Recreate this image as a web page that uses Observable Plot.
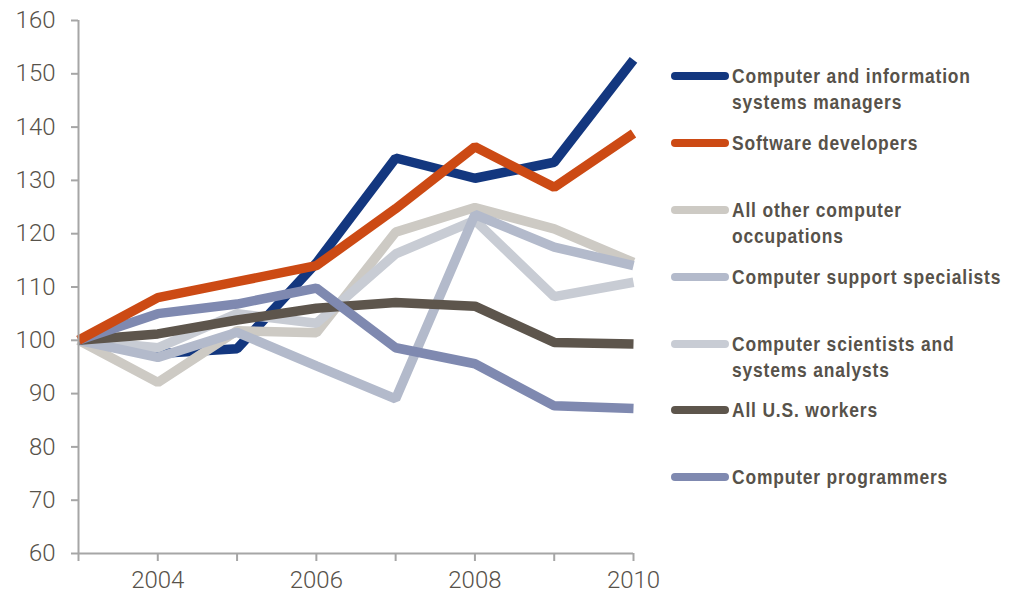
<!DOCTYPE html>
<html>
<head>
<meta charset="utf-8">
<script src="https://cdn.jsdelivr.net/npm/d3@7"></script>
<script src="https://cdn.jsdelivr.net/npm/@observablehq/plot@0.6"></script>
<style>
  html, body { margin: 0; padding: 0; background: #fff; }
  #wrap { position: relative; width: 1017px; height: 596px; overflow: hidden; }
  #chart { position: absolute; left: 0; top: 0; }
  .item { position: absolute; left: 671px; }
  .sw { position: absolute; left: 0; width: 58px; height: 8px; border-radius: 4px; }
  .lab { position: absolute; left: 61px; white-space: nowrap;
         font-family: "Liberation Sans", Arial, sans-serif;
         font-weight: bold; font-size: 21px; line-height: 26px;
         letter-spacing: 1px; color: #57524a;
         transform: scaleX(0.83); transform-origin: 0 0; }
</style>
</head>
<body>
<div id="wrap"><div id="chart"></div></div>
<script>
const years = [2003, 2004, 2005, 2006, 2007, 2008, 2009, 2010];
const yTicks = [60, 70, 80, 90, 100, 110, 120, 130, 140, 150, 160];
const xTicks = [2003, 2004, 2005, 2006, 2007, 2008, 2009, 2010];

const seriesNames = [
  "Computer and information systems managers",
  "Software developers",
  "All other computer occupations",
  "Computer support specialists",
  "Computer scientists and systems analysts",
  "All U.S. workers",
  "Computer programmers"
];
const legendLines = [
  ["Computer and information", "systems managers"],
  ["Software developers"],
  ["All other computer", "occupations"],
  ["Computer support specialists"],
  ["Computer scientists and", "systems analysts"],
  ["All U.S. workers"],
  ["Computer programmers"]
];
const colors = ["#13377f", "#cc4a14", "#cdcac4", "#b3bacb", "#c8ccd4", "#5d554c", "#7f89b0"];

const managers    = [100, 97.5, 98.4, 114.5, 134.2, 130.4, 133.4, 152.6];
const developers  = [100, 108.0, 111.0, 114.0, 124.7, 136.3, 128.7, 138.8];
const allOther    = [100, 92.1, 101.8, 101.4, 120.3, 124.9, 120.9, 114.6];
const support     = [100, 96.8, 101.5, 95.2, 89.0, 123.6, 117.5, 114.0];
const scientists  = [100, 98.6, 105.0, 103.2, 116.2, 122.5, 108.2, 110.9];
const usWorkers   = [100, 101.2, 103.8, 106.0, 107.1, 106.4, 99.6, 99.3];
const programmers = [100, 105.0, 106.8, 109.8, 98.6, 95.6, 87.7, 87.2];

const valuesByName = {
  "Computer and information systems managers": managers,
  "Software developers": developers,
  "All other computer occupations": allOther,
  "Computer support specialists": support,
  "Computer scientists and systems analysts": scientists,
  "All U.S. workers": usWorkers,
  "Computer programmers": programmers
};

// drawing order (bottom to top)
const drawOrder = [
  "Computer and information systems managers",
  "All other computer occupations",
  "Computer scientists and systems analysts",
  "Computer support specialists",
  "All U.S. workers",
  "Computer programmers",
  "Software developers"
];
const rows = drawOrder.flatMap(name => years.map((year, i) => ({name, year, value: valuesByName[name][i]})));

const axisColor = "#a6a6a6";
const textColor = "#57524a";

const chart = Plot.plot({
  width: 650,
  height: 596,
  marginLeft: 78,
  marginRight: 17,
  marginTop: 20,
  marginBottom: 43,
  style: {fontFamily: "Roboto, sans-serif", fontWeight: 300, fontSize: "24px", color: textColor, background: "transparent", overflow: "visible"},
  x: {domain: [2003, 2010]},
  y: {domain: [60, 160]},
  color: {domain: seriesNames, range: colors},
  marks: [
    Plot.line(rows, {x: "year", y: "value", z: "name", stroke: "name", strokeWidth: 9.5, strokeLinejoin: "miter", strokeLinecap: "butt"}),
    Plot.ruleX([2003], {y1: 60, y2: 160, stroke: axisColor, strokeWidth: 2}),
    Plot.ruleY([60], {x1: 2003, x2: 2010, stroke: axisColor, strokeWidth: 2}),
    Plot.axisY({ticks: yTicks, tickSize: 7, tickPadding: 16, stroke: axisColor, strokeWidth: 2, fill: textColor, tickFormat: d => String(d), label: null}),
    Plot.axisX({ticks: xTicks, tickSize: 8, tickPadding: 9, stroke: axisColor, strokeWidth: 2, fill: textColor, tickFormat: d => d % 2 === 0 ? String(d) : "", label: null})
  ]
});
document.getElementById("chart").appendChild(chart);

// legend (right side)
const swatchY = [76, 143, 210, 277, 344, 410, 477];
const wrap = document.getElementById("wrap");
seriesNames.forEach((name, i) => {
  const item = document.createElement("div");
  item.className = "item";
  item.style.top = swatchY[i] + "px";
  const sw = document.createElement("div");
  sw.className = "sw";
  sw.style.top = "-4px";
  sw.style.background = colors[i];
  const lab = document.createElement("div");
  lab.className = "lab";
  lab.style.top = "-13px";
  lab.innerHTML = legendLines[i].join("<br>");
  item.appendChild(sw);
  item.appendChild(lab);
  wrap.appendChild(item);
});
</script>
</body>
</html>
